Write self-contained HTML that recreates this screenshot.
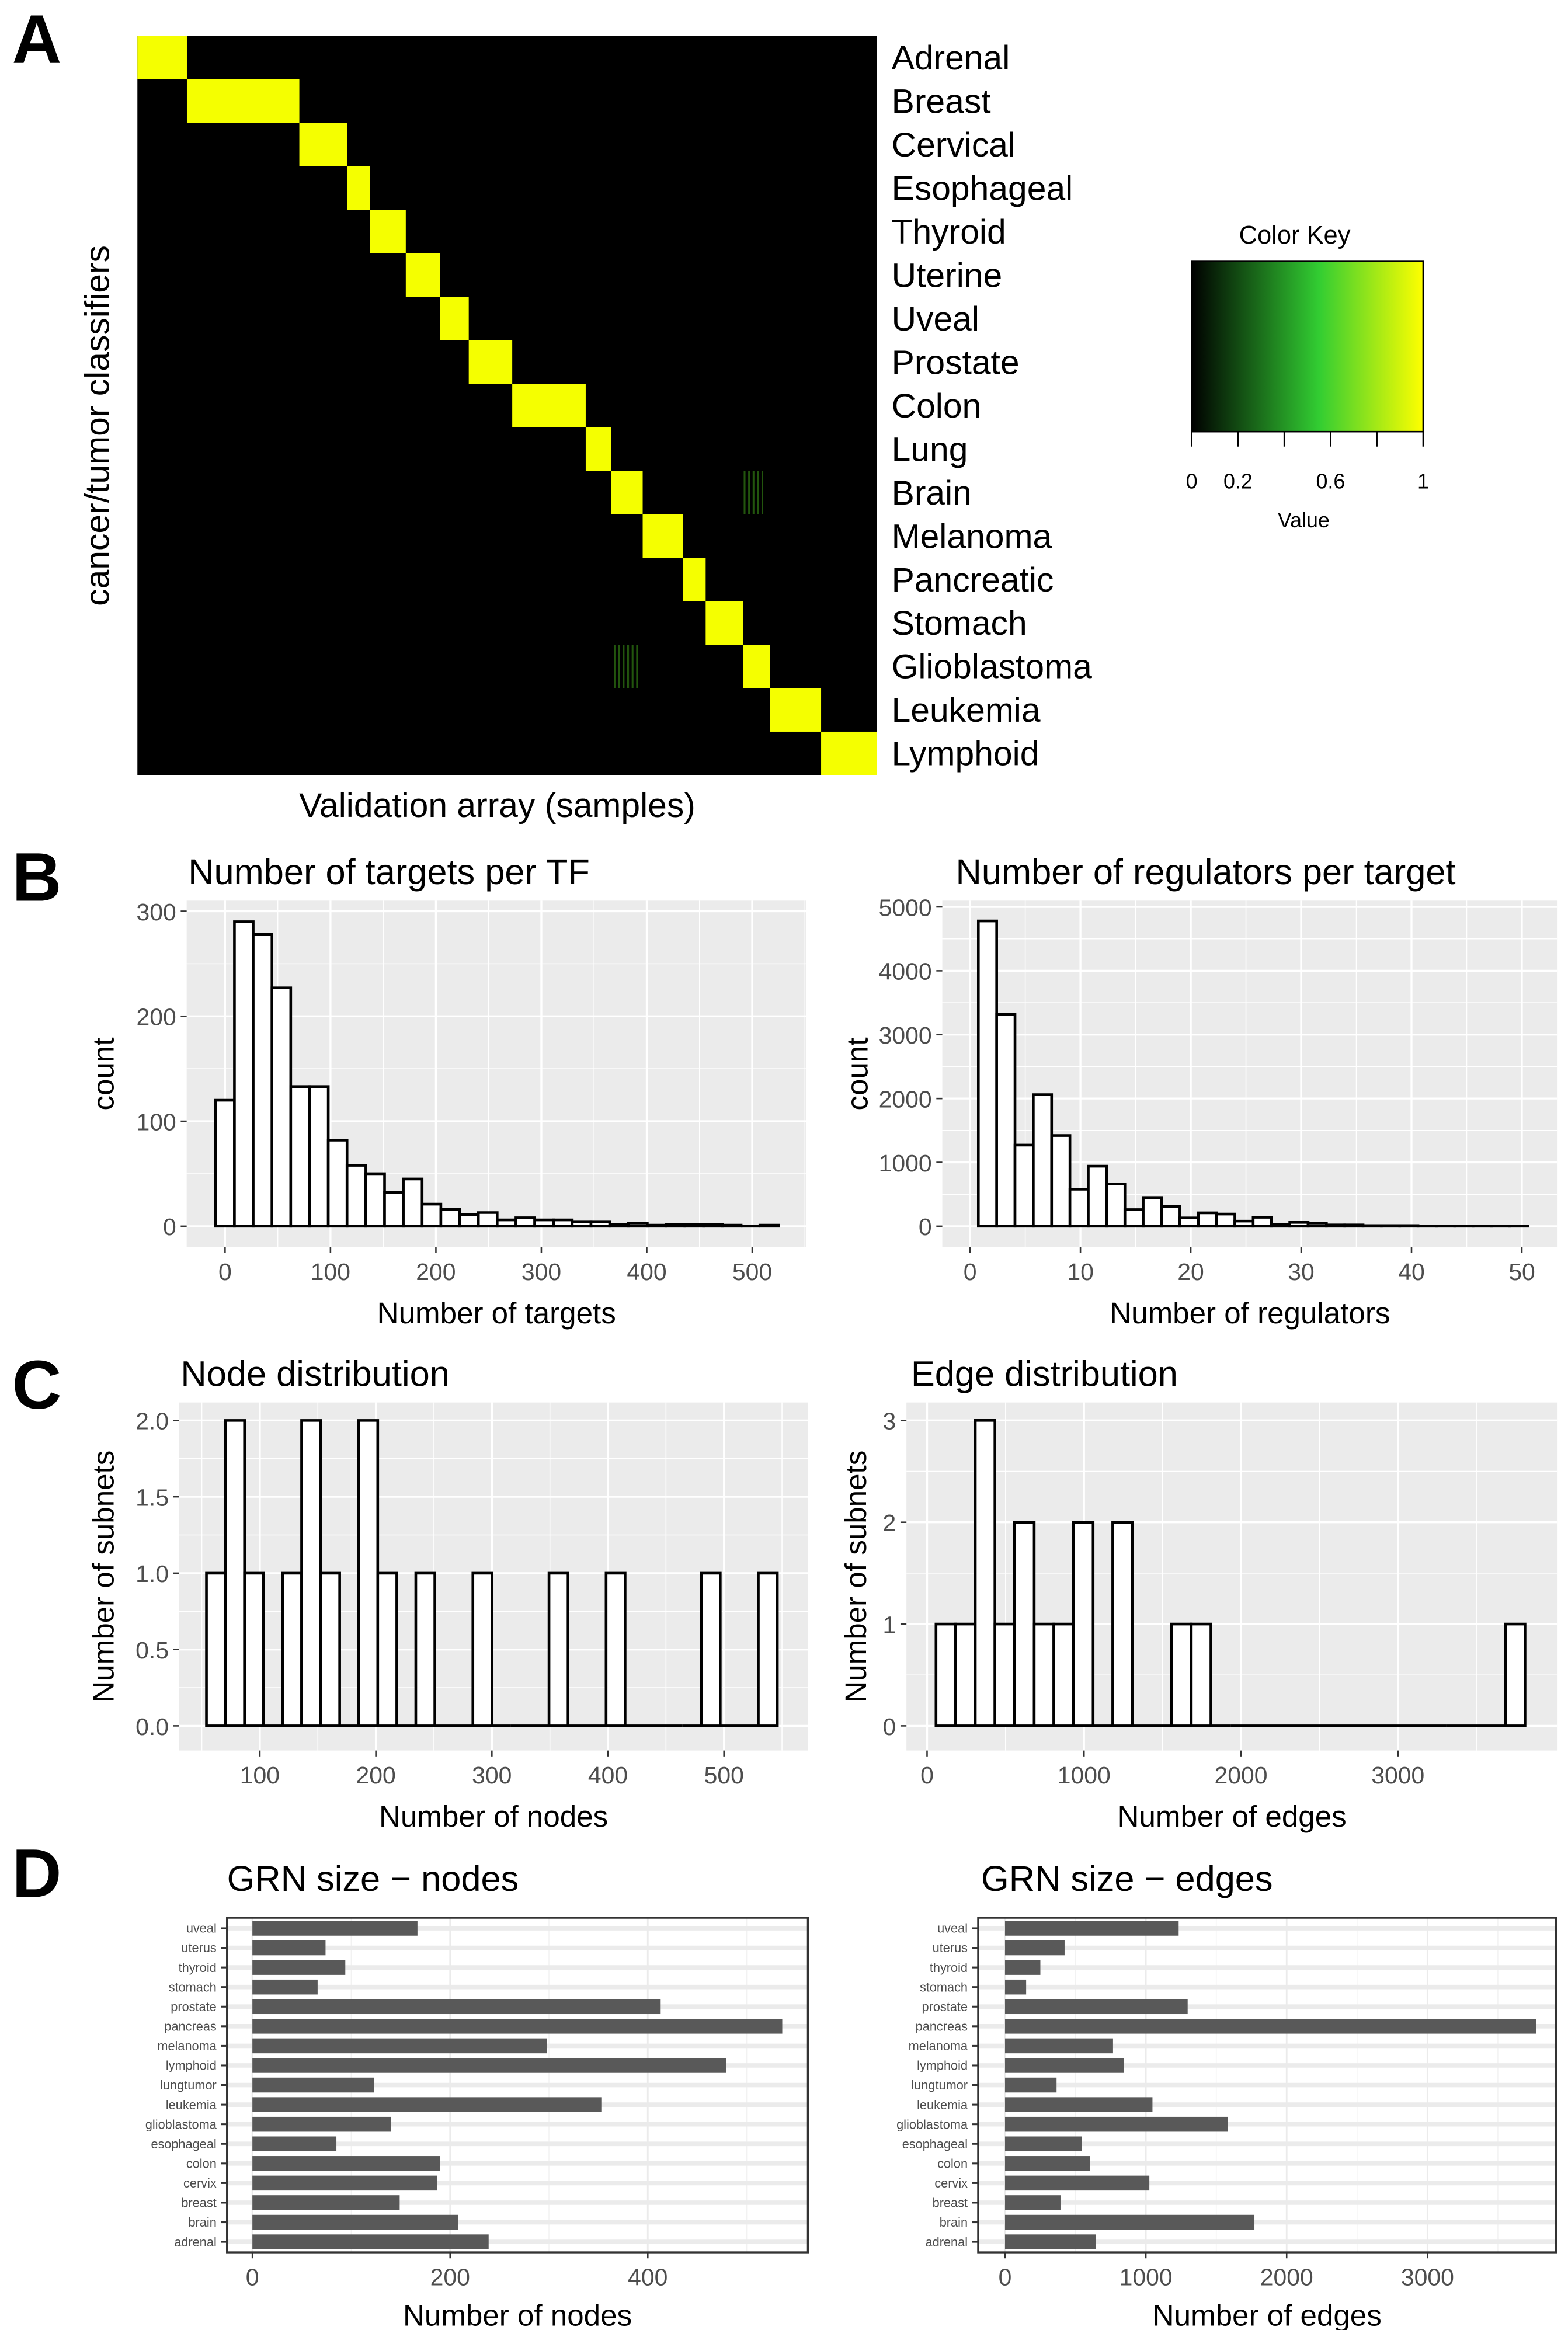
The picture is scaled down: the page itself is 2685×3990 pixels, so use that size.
<!DOCTYPE html>
<html><head><meta charset="utf-8"><style>
html,body{margin:0;padding:0;background:#fff;}
svg{display:block;font-family:"Liberation Sans",Arial,sans-serif;}
</style></head><body>
<svg id="fig" xmlns="http://www.w3.org/2000/svg" width="2685" height="3990" viewBox="0 0 1050 1560" preserveAspectRatio="none">
<defs>
<linearGradient id="ck" x1="0" x2="1" y1="0" y2="0">
<stop offset="0" stop-color="#000"/><stop offset="0.55" stop-color="#32CD32"/><stop offset="1" stop-color="#FFFF00"/>
</linearGradient>
<pattern id="streak" width="3" height="10" patternUnits="userSpaceOnUse">
<rect x="0" y="0" width="1.2" height="10" fill="#2a6a10"/>
</pattern>
</defs>
<g id="root"></g>
</svg>
<script>
// ---------- data ----------
const classes = ["Adrenal","Breast","Cervical","Esophageal","Thyroid","Uterine","Uveal","Prostate","Colon","Lung","Brain","Melanoma","Pancreatic","Stomach","Glioblastoma","Leukemia","Lymphoid"];
const sampleCounts = [33,75,32,15,24,23,19,29,49,17,21,27,15,25,18,34,37];

const targetCounts = [120,290,278,227,133,133,82,58,50,32,45,21,16,11,13,6,8,6,6,4,4,2,3,1,2,2,2,1,0,1];
const targetStart = -8.9, targetBin = 17.8;
const regCounts = [4780,3320,1270,2060,1420,580,940,660,260,450,310,130,210,190,80,140,30,60,50,20,20,10,10,10,5,5,5,5,5,5];
const regStart = 0.75, regBin = 1.66;
const nodeHist = [1,2,1,0,1,2,1,0,2,1,0,1,0,0,1,0,0,0,1,0,0,1,0,0,0,0,1,0,0,1];
const nodeStart = 54, nodeBin = 16.4;
const edgeHist = [1,1,3,1,2,1,1,2,0,2,0,0,1,1,0,0,0,0,0,0,0,0,0,0,0,0,0,0,0,1];
const edgeStart = 57, edgeBin = 125.1;

const tissues = ["uveal","uterus","thyroid","stomach","prostate","pancreas","melanoma","lymphoid","lungtumor","leukemia","glioblastoma","esophageal","colon","cervix","breast","brain","adrenal"];
const grnNodes = [167,74,94,66,413,536,298,479,123,353,140,85,190,187,149,208,239];
const grnEdges = [1233,423,251,150,1297,3771,767,846,366,1047,1584,545,602,1025,394,1771,645];

// ---------- helpers ----------
const NS="http://www.w3.org/2000/svg";
const root=document.getElementById('root');
function el(tag,attrs,parent,text){const e=document.createElementNS(NS,tag);for(const k in attrs)e.setAttribute(k,attrs[k]);if(text!==undefined)e.textContent=text;(parent||root).appendChild(e);return e;}
function txt(x,y,s,size,opts,parent){opts=opts||{};const a={x:x,y:y,'font-size':size,fill:opts.fill||'#000','text-anchor':opts.anchor||'start'};if(opts.rot)a.transform='rotate(-90 '+x+' '+y+')';if(opts.bold)a['font-weight']='bold';return el('text',a,parent,s);}

// ---------- Panel labels ----------
['A','B','C','D'].forEach((L,i)=>{const ys=[42,603,943,1270];const t=txt(8,ys[i],L,46,{bold:true});

});

// ---------- Panel A heatmap ----------
(function(){
 const g=el('g',{});
 
 
 const X0=92,X1=587,Y0=24,Y1=519;
 el('rect',{x:X0,y:Y0,width:X1-X0,height:Y1-Y0,fill:'#000'},g);
 const total=sampleCounts.reduce((a,b)=>a+b,0);
 const sx=(X1-X0)/total, rh=(Y1-Y0)/classes.length;
 let acc=0;
 classes.forEach((c,i)=>{
  const r=el('rect',{x:X0+acc*sx,y:Y0+i*rh,width:sampleCounts[i]*sx,height:rh,fill:'#F5FF00'},g);
  
  
  acc+=sampleCounts[i];
  const t=txt(597,Y0+i*rh+rh/2+8,c,23,{},g);
  
  
 });
 // faint streaks
 [[497,10,14],[411,14,18]].forEach(s=>{
  el('rect',{x:s[0],y:Y0+s[1]*rh,width:s[2],height:rh,fill:'url(#streak)',opacity:0.8},g);});
 const yt=txt(73,285,'cancer/tumor classifiers',23,{rot:true,anchor:'middle'},g);
 
 
 const xt=txt(333,547,'Validation array (samples)',23,{anchor:'middle'},g);
 
 
 // color key
 const k=el('g',{},g);
 
 
 txt(867,163,'Color Key',17,{anchor:'middle'},k);
 el('rect',{x:798,y:175,width:155,height:114,fill:'url(#ck)',stroke:'#000','stroke-width':1},k);
 [0,0.2,0.4,0.6,0.8,1].forEach(v=>{const x=798+v*155;el('line',{x1:x,x2:x,y1:289,y2:299,stroke:'#000','stroke-width':1},k);});
 [[0,'0'],[0.2,'0.2'],[0.6,'0.6'],[1,'1']].forEach(p=>txt(798+p[0]*155,327,p[1],14,{anchor:'middle'},k));
 txt(873,353,'Value',14,{anchor:'middle'},k);
})();

// ---------- histogram panel ----------
function histPanel(o){
 const g=el('g',{});
 
 
 el('rect',{x:o.L,y:o.T,width:o.R-o.L,height:o.B-o.T,fill:'#EBEBEB'},g);
 o.xminor.forEach(v=>{const x=o.xs(v);el('line',{x1:x,x2:x,y1:o.T,y2:o.B,stroke:'#fff','stroke-width':0.6},g);});
 o.yminor.forEach(v=>{const y=o.ys(v);el('line',{x1:o.L,x2:o.R,y1:y,y2:y,stroke:'#fff','stroke-width':0.6},g);});
 o.xmajor.forEach(v=>{const x=o.xs(v);el('line',{x1:x,x2:x,y1:o.T,y2:o.B,stroke:'#fff','stroke-width':1.3},g);
   el('line',{x1:x,x2:x,y1:o.B,y2:o.B+4,stroke:'#333','stroke-width':1},g);
   txt(x,o.B+22,o.xlab(v),16,{anchor:'middle',fill:'#4D4D4D'},g);});
 o.ymajor.forEach(v=>{const y=o.ys(v);el('line',{x1:o.L,x2:o.R,y1:y,y2:y,stroke:'#fff','stroke-width':1.3},g);
   el('line',{x1:o.L-4,x2:o.L,y1:y,y2:y,stroke:'#333','stroke-width':1},g);
   txt(o.L-7,y+6,o.ylab(v),16,{anchor:'end',fill:'#4D4D4D'},g);});
 o.counts.forEach((c,i)=>{
  const x0=o.xs(o.start+i*o.bin),x1=o.xs(o.start+(i+1)*o.bin),y0=o.ys(0),y1=o.ys(c);
  const p=el('path',{d:'M'+x0+' '+y0+'V'+y1+'H'+x1+'V'+y0+'Z',fill:'#fff',stroke:'#000','stroke-width':1.8,'stroke-linejoin':'miter'},g);
  
  
 });
 txt(o.titleX,o.titleY,o.title,24,{},g);
 txt((o.L+o.R)/2,o.B+51,o.xtitle,20,{anchor:'middle'},g);
 txt(o.ytX,(o.T+o.B)/2,o.ytitle,20,{rot:true,anchor:'middle'},g);
}
function rng(a,b,s){const r=[];for(let v=a;v<=b+1e-9;v+=s)r.push(+v.toFixed(4));return r;}

histPanel({name:'targets-histogram',L:125,R:540,T:603,B:835,xs:v=>150.7+v*0.706,ys:v=>821-v*0.703,
 xmajor:rng(0,500,100),xminor:rng(50,550,100),ymajor:rng(0,300,100),yminor:rng(50,250,100),
 xlab:v=>String(v),ylab:v=>String(v),counts:targetCounts,start:targetStart,bin:targetBin,
 title:'Number of targets per TF',titleX:126,titleY:592,xtitle:'Number of targets',ytitle:'count',ytX:76});
histPanel({name:'regulators-histogram',L:631,R:1043,T:603,B:835,xs:v=>649.6+v*7.39,ys:v=>821-v*0.04276,
 xmajor:rng(0,50,10),xminor:rng(5,45,10),ymajor:rng(0,5000,1000),yminor:rng(500,4500,1000),
 xlab:v=>String(v),ylab:v=>String(v),counts:regCounts,start:regStart,bin:regBin,
 title:'Number of regulators per target',titleX:640,titleY:592,xtitle:'Number of regulators',ytitle:'count',ytX:581});
histPanel({name:'node-distribution-histogram',L:120,R:541,T:939,B:1172,xs:v=>174+(v-100)*0.777,ys:v=>1155.5-v*102.25,
 xmajor:rng(100,500,100),xminor:rng(50,550,100),ymajor:rng(0,2,0.5),yminor:rng(0.25,1.75,0.5),
 xlab:v=>String(v),ylab:v=>v.toFixed(1),counts:nodeHist,start:nodeStart,bin:nodeBin,
 title:'Node distribution',titleX:121,titleY:928,xtitle:'Number of nodes',ytitle:'Number of subnets',ytX:76});
histPanel({name:'edge-distribution-histogram',L:607,R:1043,T:939,B:1172,xs:v=>620.8+v*0.1051,ys:v=>1155.5-v*68.17,
 xmajor:rng(0,3000,1000),xminor:rng(500,3500,1000),ymajor:rng(0,3,1),yminor:rng(0.5,2.5,1),
 xlab:v=>String(v),ylab:v=>String(v),counts:edgeHist,start:edgeStart,bin:edgeBin,
 title:'Edge distribution',titleX:610,titleY:928,xtitle:'Number of edges',ytitle:'Number of subnets',ytX:580});

// ---------- bar panels ----------
function barPanel(o){
 const g=el('g',{});
 
 
 el('rect',{x:o.L,y:o.T,width:o.R-o.L,height:o.B-o.T,fill:'#fff'},g);
 const step=(1501-1291)/16;
 o.xminor.forEach(v=>{const x=o.xs(v);el('line',{x1:x,x2:x,y1:o.T,y2:o.B,stroke:'#F2F2F2','stroke-width':0.6},g);});
 o.xmajor.forEach(v=>{const x=o.xs(v);el('line',{x1:x,x2:x,y1:o.T,y2:o.B,stroke:'#EBEBEB','stroke-width':1.1},g);});
 tissues.forEach((t,i)=>{const y=1291+i*step;
  el('line',{x1:o.L,x2:o.R,y1:y,y2:y,stroke:'#EBEBEB','stroke-width':3},g);
  el('line',{x1:o.L-4,x2:o.L,y1:y,y2:y,stroke:'#333','stroke-width':1.2},g);
  txt(o.L-7,y+3,t,8.5,{anchor:'end',fill:'#4D4D4D'},g);});
 o.values.forEach((v,i)=>{const y=1291+i*step;
  const r=el('rect',{x:o.xs(0),y:y-step*0.38,width:o.xs(v)-o.xs(0),height:step*0.76,fill:'#595959'},g);
  
  });
 el('rect',{x:o.L,y:o.T,width:o.R-o.L,height:o.B-o.T,fill:'none',stroke:'#333','stroke-width':1.3},g);
 o.xmajor.forEach(v=>{const x=o.xs(v);el('line',{x1:x,x2:x,y1:o.B,y2:o.B+4,stroke:'#333','stroke-width':1},g);
  txt(x,o.B+22,String(v),16,{anchor:'middle',fill:'#4D4D4D'},g);});
 txt(o.titleX,1266,o.title,24,{},g);
 txt((o.L+o.R)/2,1557,o.xtitle,20,{anchor:'middle'},g);
}
barPanel({name:'grn-size-nodes',L:152,R:541,T:1284,B:1508,xs:v=>169+v*0.662,xmajor:rng(0,400,200),xminor:rng(100,500,200),
 values:grnNodes,title:'GRN size − nodes',titleX:152,xtitle:'Number of nodes'});
barPanel({name:'grn-size-edges',L:655,R:1042,T:1284,B:1508,xs:v=>673+v*0.0943,xmajor:rng(0,3000,1000),xminor:rng(500,3500,1000),
 values:grnEdges,title:'GRN size − edges',titleX:657,xtitle:'Number of edges'});
</script>
</body></html>
